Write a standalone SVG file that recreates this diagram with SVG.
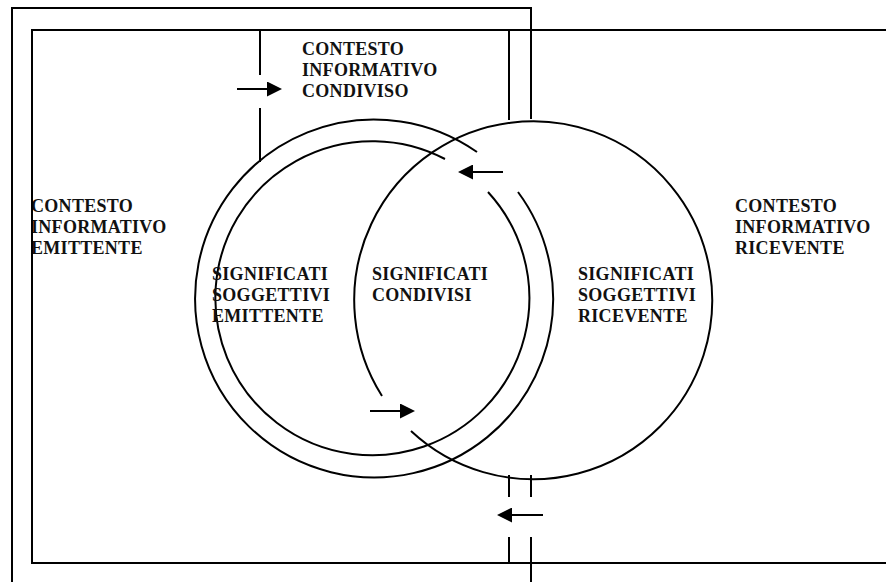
<svg xmlns="http://www.w3.org/2000/svg" width="886" height="582" viewBox="0 0 886 582">
<style>
.ln{fill:none;stroke:#000;stroke-width:2}
.t{font-family:"Liberation Serif","Times New Roman",serif;font-weight:bold;font-size:18px;letter-spacing:0.3px;fill:#111}
</style>
<defs>
<marker id="ah" markerUnits="userSpaceOnUse" markerWidth="15" markerHeight="15" viewBox="0 0 15 15" refX="5" refY="7.5" orient="auto">
<path d="M0,0 L15,7.5 L0,15 Z" fill="#000"/>
</marker>
</defs>
<rect width="886" height="582" fill="#fff"/>
<g id="contesto-emittente">
<path class="ln" d="M12,582 V8 H531 V119"/>
<text class="t" x="31" y="212">CONTESTO</text>
<text class="t" x="31" y="233">INFORMATIVO</text>
<text class="t" x="31" y="254">EMITTENTE</text>
</g>
<g id="contesto-ricevente">
<path class="ln" d="M886,30 H32 V563 H886"/>
<text class="t" x="735" y="212">CONTESTO</text>
<text class="t" x="735" y="233">INFORMATIVO</text>
<text class="t" x="735" y="254">RICEVENTE</text>
</g>
<g id="contesto-condiviso">
<text class="t" x="302" y="55">CONTESTO</text>
<text class="t" x="302" y="76">INFORMATIVO</text>
<text class="t" x="302" y="97">CONDIVISO</text>
</g>
<g id="significati-emittente">
<path class="ln" d="M518,192 A179,179 0 1 1 477,152"/>
<path class="ln" d="M488,192 A157,157 0 1 1 445,159"/>
<text class="t" x="212" y="280">SIGNIFICATI</text>
<text class="t" x="212" y="301">SOGGETTIVI</text>
<text class="t" x="212" y="322">EMITTENTE</text>
</g>
<g id="significati-ricevente">
<path class="ln" d="M382,396 A179,179 0 1 1 411,431"/>
<text class="t" x="578" y="280">SIGNIFICATI</text>
<text class="t" x="578" y="301">SOGGETTIVI</text>
<text class="t" x="578" y="322">RICEVENTE</text>
</g>
<g id="significati-condivisi">
<text class="t" x="372" y="280">SIGNIFICATI</text>
<text class="t" x="372" y="301">CONDIVISI</text>
</g>
<g id="connectors">
<path class="ln" d="M260,30 V75 M260,108 V162"/>
<path class="ln" d="M509,30 V120"/>
<path class="ln" d="M509,475 V497 M509,537 V563"/>
<path class="ln" d="M531,475 V497 M531,537 V582"/>
<line class="ln" x1="237" y1="89" x2="272" y2="89" marker-end="url(#ah)"/>
<line class="ln" x1="503" y1="172" x2="468" y2="172" marker-end="url(#ah)"/>
<line class="ln" x1="370" y1="411" x2="405" y2="411" marker-end="url(#ah)"/>
<line class="ln" x1="543" y1="515" x2="507" y2="515" marker-end="url(#ah)"/>
</g>
</svg>
